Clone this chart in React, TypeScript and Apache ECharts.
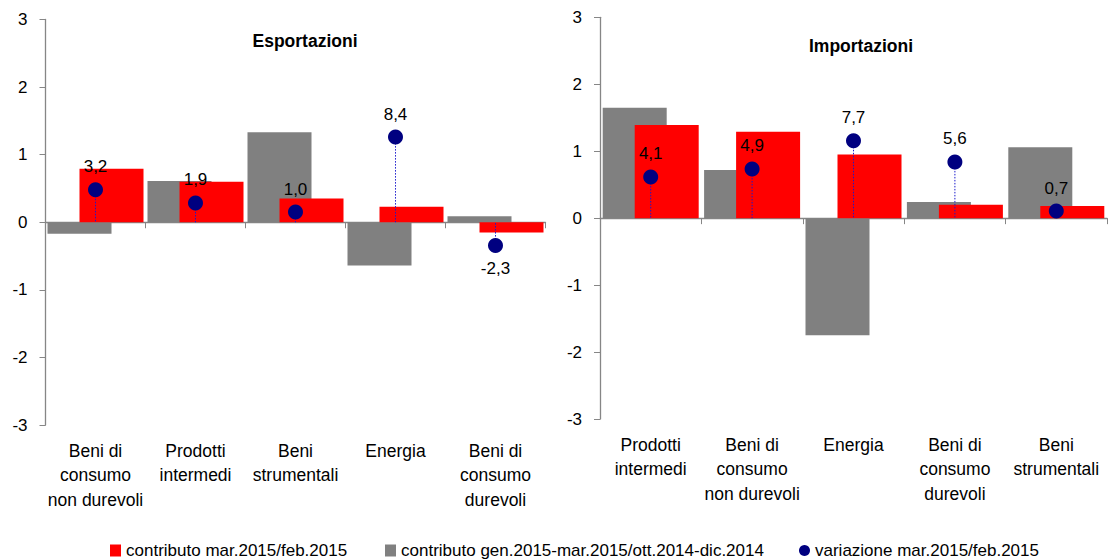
import React, { useEffect, useRef } from "react";
import * as echarts from "echarts";

// ---- data ----
const catExp = ["Beni di\nconsumo\nnon durevoli", "Prodotti\nintermedi", "Beni\nstrumentali", "Energia", "Beni di\nconsumo\ndurevoli"];
const grayExp = [-0.17, 0.61, 1.33, -0.64, 0.09];
const redExp = [0.79, 0.6, 0.35, 0.23, -0.15];
const varExp = [3.2, 1.9, 1.0, 8.4, -2.3];

const catImp = ["Prodotti\nintermedi", "Beni di\nconsumo\nnon durevoli", "Energia", "Beni di\nconsumo\ndurevoli", "Beni\nstrumentali"];
const grayImp = [1.65, 0.72, -1.75, 0.24, 1.06];
const redImp = [1.39, 1.29, 0.95, 0.2, 0.18];
const varImp = [4.1, 4.9, 7.7, 5.6, 0.7];

const yTicksMin = -3;
const yTicksMax = 3;
const varMin = -20;
const varMax = 20;

const nameRed = "contributo mar.2015/feb.2015";
const nameGray = "contributo gen.2015-mar.2015/ott.2014-dic.2014";
const nameDot = "variazione mar.2015/feb.2015";

const FONT = "'Liberation Sans', Arial, sans-serif";
const AXIS_COLOR = "#868686";

const fmt = (v: number) => v.toFixed(1).replace(".", ",");

function panel(idx: number, cats: string[], gray: number[], red: number[], vari: number[], grid: any) {
  const xAxis = {
    type: "category",
    gridIndex: idx,
    data: cats,
    axisLine: { show: true, onZero: true, onZeroAxisIndex: idx * 2, lineStyle: { color: AXIS_COLOR, width: 1.3 } },
    axisTick: { show: true, length: 6, lineStyle: { color: AXIS_COLOR } },
    axisLabel: {
      margin: 13.5,
      fontSize: 17.5,
      lineHeight: 24.5,
      color: "#000",
      fontFamily: FONT,
      interval: 0,
    },
    splitLine: { show: false },
  };
  const yAxes = [
    {
      type: "value",
      gridIndex: idx,
      min: yTicksMin,
      max: yTicksMax,
      interval: 1,
      axisLine: { show: true, lineStyle: { color: AXIS_COLOR, width: 1.3 } },
      axisTick: { show: true, length: 6, lineStyle: { color: AXIS_COLOR } },
      axisLabel: { margin: 18, fontSize: 17, color: "#000", fontFamily: FONT },
      splitLine: { show: false },
    },
    {
      type: "value",
      gridIndex: idx,
      min: varMin,
      max: varMax,
      show: false,
      splitLine: { show: false },
    },
  ];
  const series = [
    {
      name: nameGray,
      type: "bar",
      xAxisIndex: idx,
      yAxisIndex: idx * 2,
      data: gray,
      barWidth: 64,
      barGap: "-50%",
      itemStyle: { color: "#808080" },
      z: 2,
    },
    {
      name: nameRed,
      type: "bar",
      xAxisIndex: idx,
      yAxisIndex: idx * 2,
      data: red,
      barWidth: 64,
      barGap: "-50%",
      itemStyle: { color: "#ff0000" },
      z: 2,
    },
    {
      name: "drop" + idx,
      type: "custom",
      xAxisIndex: idx,
      yAxisIndex: idx * 2 + 1,
      data: vari.map((v, i) => [i, v]),
      encode: { x: 0, y: 1 },
      renderItem: (params: any, api: any) => {
        const p1 = api.coord([api.value(0), api.value(1)]);
        const p0 = api.coord([api.value(0), 0]);
        return {
          type: "line",
          shape: { x1: p1[0], y1: p1[1], x2: p0[0], y2: p0[1] },
          style: { stroke: "#1a1acc", lineWidth: 1, lineDash: [1.5, 1.5] },
        };
      },
      z: 3,
      silent: true,
    },
    {
      name: nameDot,
      type: "scatter",
      xAxisIndex: idx,
      yAxisIndex: idx * 2 + 1,
      symbol: "circle",
      symbolSize: 15,
      itemStyle: { color: "#000080", opacity: 1 },
      data: vari.map((v) => ({
        value: v,
        label: { position: v < 0 ? "bottom" : "top" },
      })),
      label: {
        show: true,
        distance: 7,
        fontSize: 17,
        color: "#000",
        fontFamily: FONT,
        formatter: (p: any) => fmt(typeof p.value === "number" ? p.value : p.value[1]),
      },
      z: 4,
    },
  ];
  return { xAxis, yAxes, series };
}

export default function App() {
  const ref = useRef<HTMLDivElement>(null);
  useEffect(() => {
    document.body.style.margin = "0";
    if (!ref.current) return;
    const chart = echarts.init(ref.current, undefined, { renderer: "svg" });
    const gridL = { left: 45.5, top: 19.5, width: 500, height: 405.5 };
    const gridR = { left: 600, top: 17.3, width: 507, height: 401.7 };
    const pL = panel(0, catExp, grayExp, redExp, varExp, gridL);
    const pR = panel(1, catImp, grayImp, redImp, varImp, gridR);
    const legendBase = {
      top: 537,
      itemWidth: 11,
      itemHeight: 12,
      textStyle: { fontSize: 17, color: "#000", fontFamily: FONT },
      selectedMode: false,
    };
    chart.setOption({
      animation: false,
      backgroundColor: "#fff",
      title: [
        {
          text: "Esportazioni",
          left: 300,
          top: 27,
          textAlign: "center",
          textStyle: { fontSize: 17.5, fontWeight: "bold", color: "#000", fontFamily: FONT },
        },
        {
          text: "Importazioni",
          left: 856,
          top: 32,
          textAlign: "center",
          textStyle: { fontSize: 17.5, fontWeight: "bold", color: "#000", fontFamily: FONT },
        },
      ],
      grid: [
        { ...gridL, containLabel: false, outerBoundsMode: "none" },
        { ...gridR, containLabel: false, outerBoundsMode: "none" },
      ],
      xAxis: [pL.xAxis, pR.xAxis],
      yAxis: [...pL.yAxes, ...pR.yAxes],
      legend: [
        { ...legendBase, left: 105, data: [{ name: nameRed, icon: "rect" }] },
        { ...legendBase, left: 380, data: [{ name: nameGray, icon: "rect" }] },
        { ...legendBase, left: 794, data: [{ name: nameDot, icon: "circle" }] },
      ],
      series: [...pL.series, ...pR.series],
    });
    return () => chart.dispose();
  }, []);
  return <div ref={ref} style={{ position: "fixed", left: 0, top: 0, width: 1114, height: 560 }} />;
}
